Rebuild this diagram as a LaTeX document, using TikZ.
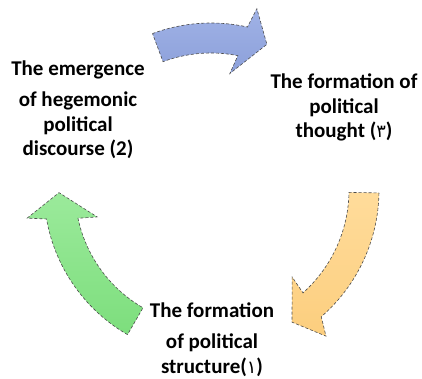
\documentclass[tikz,border=0pt]{standalone}
\usepackage{fontspec}
\setmainfont{Carlito}
\newfontfamily\digitfont[Scale=0.85]{DejaVu Sans}
\definecolor{cyblue}{RGB}{140,160,218}
\definecolor{cybluetop}{RGB}{160,178,230}
\definecolor{cyorange}{RGB}{252,206,126}
\definecolor{cyorangetop}{RGB}{255,220,155}
\definecolor{cygreen}{RGB}{125,222,125}
\definecolor{cygreentop}{RGB}{155,234,155}
\tikzstyle{cyclearrow} = [draw=black!70, densely dashed, line width=0.6pt, line join=miter]
\tikzstyle{stage} = [align=center, inner sep=0pt, anchor=north, font=\fontsize{21}{24.5}\selectfont\bfseries]

\begin{document}
\begin{tikzpicture}[x=1pt, y=1pt]
\useasboundingbox (0,0) rectangle (422,379);
\coordinate (hub) at (211,189);

\begin{scope}[shift={(hub)}]
% Structure -> discourse
\draw[cyclearrow, top color=cygreentop, bottom color=cygreen]
  (240:167pt) arc[start angle=240, end angle=190, radius=167pt]
  -- (188.7:186pt) -- (181:152pt) -- (193.3:117pt) -- (192:136pt)
  arc[start angle=192, end angle=240, radius=136pt] -- cycle;

% Discourse -> thought
\draw[cyclearrow, top color=cybluetop, bottom color=cyblue]
  (110.5:167pt) arc[start angle=110.5, end angle=77.4, radius=167pt]
  -- (75.8:187pt) -- (69:156pt) -- (80.8:118pt) -- (78.7:137pt)
  arc[start angle=78.7, end angle=110.5, radius=137pt] -- cycle;

% Thought -> structure
\draw[cyclearrow, top color=cyorangetop, bottom color=cyorange]
  (-1:168pt) arc[start angle=-1, end angle=-49, radius=168pt]
  -- (-51.8:186pt) -- (-58.5:155pt) -- (-47:119pt) -- (-48.2:138pt)
  arc[start angle=-48.2, end angle=-1, radius=138pt] -- cycle;
\end{scope}

% Stages
\node (discourse) [stage] at (78,318) {The emergence\\[6.5pt]of hegemonic\\political\\discourse (2)};
\node (thought) [stage] at (344,305) {The formation of\\political\\thought ({\digitfont\mdseries ٣})};
\node (structure) [stage] at (212,76) {The formation\\[6.5pt]of political\\structure({\digitfont\mdseries ١})};
\end{tikzpicture}
\end{document}
